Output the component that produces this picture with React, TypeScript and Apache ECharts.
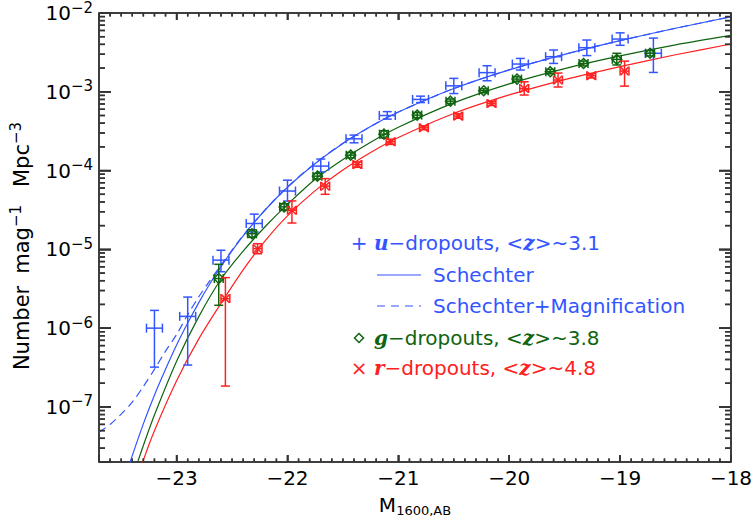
import React, { useEffect, useRef } from 'react';
import * as echarts from 'echarts';

// ---------- axis ranges & tick labels ----------
const X_MIN = -23.7;
const X_MAX = -18;
const Y_MIN = 2e-8;
const Y_MAX = 1e-2;
const xTickLabels = [-23, -22, -21, -20, -19, -18];
const yTickExponents = [-7, -6, -5, -4, -3, -2];

// ---------- u-dropouts (z~3.1) data ----------
const uMag = [-23.2, -22.9, -22.6, -22.3, -22.0, -21.7, -21.4, -21.1, -20.8, -20.5, -20.2, -19.9, -19.6, -19.3, -19.0, -18.7];
const uPhi = [1.0e-6, 1.41e-6, 7.3e-6, 2.13e-5, 5.5e-5, 1.14e-4, 2.53e-4, 5.0e-4, 8.0e-4, 1.19e-3, 1.75e-3, 2.25e-3, 2.79e-3, 3.63e-3, 4.67e-3, 3.08e-3];
const uLo = [3.2e-7, 3.4e-7, 5.2e-6, 1.66e-5, 4.1e-5, 9.6e-5, 2.25e-4, 4.5e-4, 7.3e-4, 9.5e-4, 1.38e-3, 1.89e-3, 2.29e-3, 2.88e-3, 3.89e-3, 1.76e-3];
const uHi = [1.68e-6, 2.48e-6, 9.75e-6, 2.8e-5, 7.55e-5, 1.4e-4, 2.82e-4, 5.6e-4, 8.8e-4, 1.48e-3, 2.14e-3, 2.65e-3, 3.39e-3, 4.54e-3, 5.6e-3, 4.8e-3];

// ---------- g-dropouts (z~3.8) data ----------
const gMag = [-22.62, -22.32, -22.03, -21.73, -21.43, -21.13, -20.83, -20.53, -20.23, -19.93, -19.63, -19.33, -19.03, -18.73];
const gPhi = [4.26e-6, 1.58e-5, 3.46e-5, 8.5e-5, 1.57e-4, 2.9e-4, 5.06e-4, 7.6e-4, 1.03e-3, 1.45e-3, 1.8e-3, 2.29e-3, 2.58e-3, 3.08e-3];
const gLo = [1.95e-6, 1.42e-5, 3.15e-5, 7.8e-5, 1.45e-4, 2.6e-4, 4.7e-4, 7.1e-4, 9.7e-4, 1.36e-3, 1.69e-3, 2.13e-3, 2.19e-3, 2.85e-3];
const gHi = [6.46e-6, 1.77e-5, 3.8e-5, 9.2e-5, 1.7e-4, 3.2e-4, 5.45e-4, 8.1e-4, 1.09e-3, 1.55e-3, 1.92e-3, 2.46e-3, 3.08e-3, 3.33e-3];

// ---------- r-dropouts (z~4.8) data ----------
const rMag = [-22.56, -22.27, -21.96, -21.66, -21.37, -21.07, -20.77, -20.46, -20.16, -19.865, -19.56, -19.26, -18.96];
const rPhi = [2.37e-6, 1.02e-5, 3.14e-5, 6.34e-5, 1.19e-4, 2.32e-4, 3.49e-4, 4.91e-4, 7.1e-4, 1.1e-3, 1.41e-3, 1.6e-3, 1.83e-3];
const rLo = [1.84e-7, 8.8e-6, 2.16e-5, 5.0e-5, 1.1e-4, 2.15e-4, 3.3e-4, 4.6e-4, 6.7e-4, 9.1e-4, 1.15e-3, 1.5e-3, 1.18e-3];
const rHi = [4.38e-6, 1.18e-5, 4.12e-5, 7.9e-5, 1.29e-4, 2.5e-4, 3.7e-4, 5.25e-4, 7.5e-4, 1.34e-3, 1.73e-3, 1.7e-3, 2.45e-3];

// horizontal half-widths of the error crosses (mag)
const uXerr = 0.072;
const gXerr = 0.04;
const rXerr = 0.04;

// ---------- fitted curves ----------
const uFitMag = [-23.45, -23.3, -23.2, -23.1, -23.0, -22.9, -22.8, -22.7, -22.6, -22.4, -22.2, -22.0, -21.75, -21.5, -21.25, -21.0, -20.5, -20.0, -19.5, -19.0, -18.5, -18.0];
const uFitPhi = [1.5e-8, 6.1e-8, 1.41e-7, 3.0e-7, 6.1e-7, 1.16e-6, 2.11e-6, 3.66e-6, 6.05e-6, 1.48e-5, 3.18e-5, 6.14e-5, 1.23e-4, 2.21e-4, 3.62e-4, 5.53e-4, 1.10e-3, 1.90e-3, 2.99e-3, 4.46e-3, 6.40e-3, 8.96e-3];
const uMagnMag = [-23.7, -23.6, -23.5, -23.4, -23.3, -23.2, -23.1, -23.0, -22.9, -22.8, -22.7, -22.6, -22.4, -22.2, -22.0, -21.75, -21.5, -21.25, -21.0, -20.5, -20.0, -19.5, -19.0, -18.5, -18.0];
const uMagnPhi = [4.8e-8, 6.0e-8, 8.1e-8, 1.15e-7, 1.82e-7, 3.0e-7, 5.1e-7, 8.3e-7, 1.48e-6, 2.5e-6, 4.0e-6, 6.3e-6, 1.5e-5, 3.2e-5, 6.2e-5, 1.24e-4, 2.22e-4, 3.63e-4, 5.54e-4, 1.10e-3, 1.90e-3, 2.99e-3, 4.46e-3, 6.40e-3, 8.96e-3];
const gFitMag = [-23.4, -23.3, -23.2, -23.0, -22.8, -22.6, -22.4, -22.2, -22.0, -21.75, -21.5, -21.25, -21.0, -20.5, -20.0, -19.5, -19.0, -18.5, -18.0];
const gFitPhi = [1.26e-8, 3.24e-8, 7.9e-8, 3.8e-7, 1.40e-6, 4.17e-6, 9.5e-6, 1.95e-5, 3.72e-5, 7.76e-5, 1.38e-4, 2.29e-4, 3.55e-4, 7.24e-4, 1.26e-3, 1.97e-3, 2.85e-3, 3.94e-3, 5.19e-3];
const rFitMag = [-23.35, -23.3, -23.2, -23.0, -22.8, -22.6, -22.4, -22.2, -22.0, -21.75, -21.5, -21.25, -21.0, -20.5, -20.0, -19.5, -19.0, -18.5, -18.0];
const rFitPhi = [1.2e-8, 2.1e-8, 5.0e-8, 2.15e-7, 7.3e-7, 2.06e-6, 5.5e-6, 1.29e-5, 2.66e-5, 5.56e-5, 1.02e-4, 1.70e-4, 2.63e-4, 5.31e-4, 9.12e-4, 1.43e-3, 2.09e-3, 2.95e-3, 4.04e-3];

const BLUE = '#3355ff';
const GREEN = '#0f640f';
const RED = '#ff2020';
const INK = '#333333';
const FONT = 'DejaVu Sans';
const SERIF = 'DejaVu Serif';

function zip(a: number[], b: number[]) {
  return a.map((v, i) => [v, b[i]]);
}
function errData(m: number[], p: number[], lo: number[], hi: number[], xe: number) {
  return m.map((v, i) => [v, p[i], lo[i], hi[i], xe]);
}

// ---------- tick positions on the frame (layout only) ----------
const xTickPos: { v: number; len: number }[] = [];
for (let i = -236; i <= -181; i++) {
  xTickPos.push({ v: i / 10, len: Math.abs(i % 10) === 0 ? 7 : 3.5 });
}
const yTickPos: { v: number; len: number }[] = [];
for (let e = -8; e <= -3; e++) {
  for (let k = 1; k <= 9; k++) {
    const v = k * Math.pow(10, e);
    if (v < Y_MIN * 1.01 || v > Y_MAX * 0.99) continue;
    yTickPos.push({ v, len: k === 1 ? 12 : 6 });
  }
}

function frameTicks(coord: (p: number[]) => number[]) {
  const out: any[] = [];
  const mk = (x1: number, y1: number, x2: number, y2: number) => ({
    type: 'line',
    shape: { x1, y1, x2, y2 },
    style: { stroke: INK, lineWidth: 1.5 },
  });
  xTickPos.forEach(({ v, len }) => {
    const b = coord([v, Y_MIN]);
    const t = coord([v, Y_MAX]);
    out.push(mk(b[0], b[1] - 0.5, b[0], b[1] - len));
    out.push(mk(t[0], t[1] + 0.5, t[0], t[1] + len));
  });
  yTickPos.forEach(({ v, len }) => {
    const l = coord([X_MIN, v]);
    const r = coord([X_MAX, v]);
    out.push(mk(l[0] + 0.5, l[1], l[0] + len, l[1]));
    out.push(mk(r[0] - 0.5, r[1], r[0] - len, r[1]));
  });
  return out;
}

function makeErrRender(color: string, marker: string, withTicks: boolean) {
  return (params: any, api: any) => {
    const x = api.value(0);
    const y = api.value(1);
    const lo = api.value(2);
    const hi = api.value(3);
    const xe = api.value(4);
    const c = api.coord([x, y]);
    const pl = api.coord([x, lo]);
    const ph = api.coord([x, hi]);
    const xl = api.coord([x - xe, y]);
    const xr = api.coord([x + xe, y]);
    const cap = 4.5;
    const L = (x1: number, y1: number, x2: number, y2: number) => ({
      type: 'line',
      shape: { x1, y1, x2, y2 },
      style: { stroke: color, lineWidth: 1.5 },
    });
    const children: any[] = [
      L(pl[0], pl[1], ph[0], ph[1]),
      L(pl[0] - cap, pl[1], pl[0] + cap, pl[1]),
      L(ph[0] - cap, ph[1], ph[0] + cap, ph[1]),
      L(xl[0], xl[1], xr[0], xr[1]),
      L(xl[0], xl[1] - cap, xl[0], xl[1] + cap),
      L(xr[0], xr[1] - cap, xr[0], xr[1] + cap),
    ];
    if (marker === 'diamond') {
      const s = 5;
      children.push({
        type: 'polygon',
        shape: { points: [[c[0], c[1] - s], [c[0] + s, c[1]], [c[0], c[1] + s], [c[0] - s, c[1]]] },
        style: { stroke: color, lineWidth: 1.5, fill: 'none' },
      });
    } else if (marker === 'cross') {
      const s = 4;
      children.push(L(c[0] - s, c[1] - s, c[0] + s, c[1] + s));
      children.push(L(c[0] - s, c[1] + s, c[0] + s, c[1] - s));
    }
    if (withTicks && params.dataIndex === 0) {
      try {
        frameTicks((p) => api.coord(p)).forEach((el) => children.push(el));
      } catch (err) {
        // ticks are decoration only
      }
    }
    return { type: 'group', children };
  };
}

const nativeTick = (len: number) => ({
  show: true, inside: true, length: len, lineStyle: { color: INK, width: 1.5 },
});

export default function App() {
  const ref = useRef<HTMLDivElement>(null);
  useEffect(() => {
    if (!ref.current) return;
    const chart = echarts.init(ref.current, undefined, { renderer: 'svg' });
    const legendRich = (color: string) => ({
      m: { fontFamily: SERIF, fontStyle: 'italic', fontWeight: 'bold', fontSize: 20, fill: color, color },
      t: { fontFamily: FONT, fontSize: 20, fill: color, color },
    });
    const option: any = {
      animation: false,
      backgroundColor: '#ffffff',
      textStyle: { fontFamily: FONT },
      grid: {
        left: 99, right: 25, top: 13, bottom: 66,
        show: true, borderColor: '#000', borderWidth: 1.5,
      },
      xAxis: [
        {
          type: 'value', min: X_MIN, max: X_MAX, position: 'bottom',
          axisLine: { show: false }, axisTick: nativeTick(7), splitLine: { show: false },
          axisLabel: {
            fontSize: 20, color: '#000', fontFamily: FONT, margin: 6,
            formatter: (v: number) => {
              if (!xTickLabels.some((t) => Math.abs(t - v) < 1e-6)) return '';
              return (v < 0 ? '\u2212' : '') + Math.abs(Math.round(v));
            },
          },
          name: '{m|M}{s|1600,AB}',
          nameLocation: 'middle', nameGap: 31,
          nameTextStyle: {
            color: '#000',
            rich: {
              m: { fontSize: 20, lineHeight: 24, fontFamily: FONT, color: '#000' },
              s: { fontSize: 13, lineHeight: 13, verticalAlign: 'bottom', fontFamily: FONT, color: '#000' },
            },
          },
        },
        {
          type: 'value', min: X_MIN, max: X_MAX, position: 'top',
          axisLine: { show: false }, axisTick: nativeTick(7), splitLine: { show: false },
          axisLabel: { show: false },
        },
      ],
      yAxis: [
        {
          type: 'log', min: Y_MIN, max: Y_MAX, position: 'left',
          axisLine: { show: false }, axisTick: nativeTick(12), splitLine: { show: false },
          axisLabel: {
            margin: 6, color: '#000',
            formatter: (v: number) => {
              const lg = Math.log10(v);
              const e = Math.round(lg);
              if (Math.abs(lg - e) > 0.01 || !yTickExponents.includes(e)) return '';
              return `{a|10}{s|\u2212${-e}}`;
            },
            rich: {
              a: { fontSize: 20, lineHeight: 26, fontFamily: FONT, color: '#000' },
              s: { fontSize: 15, lineHeight: 13, verticalAlign: 'top', fontFamily: FONT, color: '#000' },
            },
          },
        },
        {
          type: 'log', min: Y_MIN, max: Y_MAX, position: 'right',
          axisLine: { show: false }, axisTick: nativeTick(12), splitLine: { show: false },
          axisLabel: { show: false },
        },
      ],
      series: [
        {
          type: 'line', name: 'u Schechter', data: zip(uFitMag, uFitPhi),
          showSymbol: false, smooth: 0.3, clip: true,
          lineStyle: { color: BLUE, width: 1.2 }, itemStyle: { color: BLUE }, z: 3,
        },
        {
          type: 'line', name: 'u Schechter+Magnification', data: zip(uMagnMag, uMagnPhi),
          showSymbol: false, smooth: 0.3, clip: true,
          lineStyle: { color: BLUE, width: 1.2, type: [8, 5] }, itemStyle: { color: BLUE }, z: 3,
        },
        {
          type: 'line', name: 'g Schechter', data: zip(gFitMag, gFitPhi),
          showSymbol: false, smooth: 0.3, clip: true,
          lineStyle: { color: GREEN, width: 1.2 }, itemStyle: { color: GREEN }, z: 3,
        },
        {
          type: 'line', name: 'r Schechter', data: zip(rFitMag, rFitPhi),
          showSymbol: false, smooth: 0.3, clip: true,
          lineStyle: { color: RED, width: 1.2 }, itemStyle: { color: RED }, z: 3,
        },
        {
          type: 'custom', name: 'u-dropouts', data: errData(uMag, uPhi, uLo, uHi, uXerr),
          encode: { x: 0, y: 1 }, renderItem: makeErrRender(BLUE, 'none', true), z: 4,
        },
        {
          type: 'custom', name: 'g-dropouts', data: errData(gMag, gPhi, gLo, gHi, gXerr),
          encode: { x: 0, y: 1 }, renderItem: makeErrRender(GREEN, 'diamond', false), z: 5,
        },
        {
          type: 'custom', name: 'r-dropouts', data: errData(rMag, rPhi, rLo, rHi, rXerr),
          encode: { x: 0, y: 1 }, renderItem: makeErrRender(RED, 'cross', false), z: 6,
        },
      ],
    };
    chart.setOption(option);

    let tickGraphics: any[] = [];
    try {
      tickGraphics = frameTicks((p) => chart.convertToPixel({ xAxisIndex: 0, yAxisIndex: 0 }, p) as number[]);
      tickGraphics.forEach((g) => (g.z = 100));
    } catch (err) {
      tickGraphics = [];
    }

    const legendGraphics: any[] = [
      {
        type: 'text', x: 22, y: 246, rotation: Math.PI / 2,
        style: {
          text: '{a|Number}{g1| }{a|mag}{s|\u22121}{g2| }{a|Mpc}{s|\u22123}',
          textAlign: 'center', textVerticalAlign: 'middle',
          rich: {
            a: { fontFamily: FONT, fontSize: 21, lineHeight: 28, fill: '#000' },
            s: { fontFamily: FONT, fontSize: 15, lineHeight: 14, verticalAlign: 'top', fill: '#000' },
            g1: { fontFamily: FONT, fontSize: 21, width: 12 },
            g2: { fontFamily: FONT, fontSize: 21, width: 18 },
          },
        },
      },
      { type: 'text', x: 359, y: 243, style: { text: '+', fill: BLUE, font: `20px "${FONT}"`, textAlign: 'center', textVerticalAlign: 'middle' } },
      {
        type: 'text', x: 374, y: 243,
        style: { text: '{m|u}{t|\u2212dropouts, <}{m|z}{t|>~3.1}', rich: legendRich(BLUE), textAlign: 'left', textVerticalAlign: 'middle' },
      },
      { type: 'line', shape: { x1: 377, y1: 275, x2: 421, y2: 275 }, style: { stroke: BLUE, lineWidth: 1.2 } },
      { type: 'text', x: 433, y: 275, style: { text: 'Schechter', fill: BLUE, font: `20px "${FONT}"`, textAlign: 'left', textVerticalAlign: 'middle' } },
      { type: 'line', shape: { x1: 377, y1: 306, x2: 421, y2: 306 }, style: { stroke: BLUE, lineWidth: 1.2, lineDash: [8, 6] } },
      { type: 'text', x: 433, y: 306, style: { text: 'Schechter+Magnification', fill: BLUE, font: `20px "${FONT}"`, textAlign: 'left', textVerticalAlign: 'middle' } },
      {
        type: 'polygon',
        shape: { points: [[359, 333.5], [363.5, 338], [359, 342.5], [354.5, 338]] },
        style: { stroke: GREEN, fill: 'none', lineWidth: 1.5 },
      },
      {
        type: 'text', x: 374, y: 338,
        style: { text: '{m|g}{t|\u2212dropouts, <}{m|z}{t|>~3.8}', rich: legendRich(GREEN), textAlign: 'left', textVerticalAlign: 'middle' },
      },
      { type: 'text', x: 359, y: 368, style: { text: '\u00D7', fill: RED, font: `20px "${FONT}"`, textAlign: 'center', textVerticalAlign: 'middle' } },
      {
        type: 'text', x: 374, y: 368,
        style: { text: '{m|r}{t|\u2212dropouts, <}{m|z}{t|>~4.8}', rich: legendRich(RED), textAlign: 'left', textVerticalAlign: 'middle' },
      },
    ];

    chart.setOption({ graphic: [...legendGraphics, ...tickGraphics] });
    return () => chart.dispose();
  }, []);
  return (
    <div
      ref={ref}
      style={{ position: 'fixed', left: 0, top: 0, width: 756, height: 528, background: '#fff' }}
    />
  );
}
